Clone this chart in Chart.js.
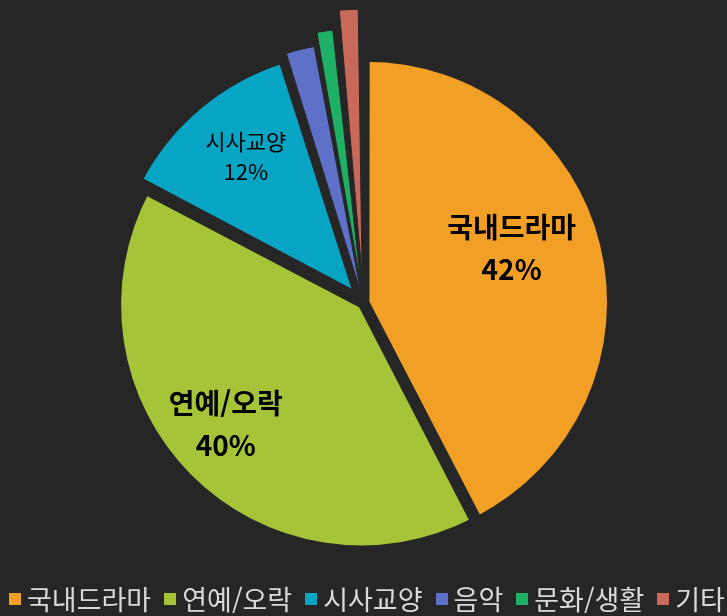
<!DOCTYPE html>
<html lang="ko">

<head>
    <meta charset="UTF-8">
    <title>장르별 비중</title>
    <script src="https://cdn.jsdelivr.net/npm/chart.js"></script>
    <style>
        body {
            margin: 0;
            background: #262626;
        }

        .grafico {
            position: relative;
            width: 727px;
            height: 616px;
        }

        #legenda {
            position: absolute;
            left: 9px;
            top: 581px;
            display: flex;
            font-family: "Noto Sans CJK KR", sans-serif;
            font-size: 27px;
            line-height: 36px;
            color: #d9d9d9;
            white-space: nowrap;
        }

        .item {
            display: flex;
            align-items: center;
            margin-right: 13px;
        }

        .caixa {
            width: 12px;
            height: 12px;
            margin-right: 6px;
        }
    </style>
</head>

<body>
    <div class="grafico">
        <canvas id="pizza"></canvas>
        <div id="legenda"></div>
    </div>
</body>

</html>

<script>
    var generos = ["국내드라마", "연예/오락", "시사교양", "음악", "문화/생활", "기타"];
    var percentuais = [42.4, 40.3, 12.4, 2.0, 1.3, 1.6];
    var cores = ["#F29F26", "#A5C438", "#06A5C4", "#5E70C8", "#1EB064", "#C8695A"];

    // only the three big slices carry a label inside
    var rotulosConfig = [
        { i: 0, r: 0.64, da: -6.7, size: 28, weight: "bold", gap: 42 },
        { i: 1, r: 0.745, da: 3.6, size: 28, weight: "bold", gap: 42 },
        { i: 2, r: 0.73, da: 1.2, size: 22, weight: "normal", gap: 30 }
    ];

    var rotulos = {
        id: "rotulos",
        afterDatasetsDraw: function (chart) {
            var ctx = chart.ctx;
            var arcs = chart.getDatasetMeta(0).data;
            var total = percentuais.reduce(function (a, b) { return a + b; }, 0);
            ctx.save();
            ctx.fillStyle = "#000";
            ctx.textAlign = "center";
            ctx.textBaseline = "middle";
            rotulosConfig.forEach(function (c) {
                var arc = arcs[c.i];
                var p = arc.getProps(["x", "y", "startAngle", "endAngle", "outerRadius"], true);
                var meio = (p.startAngle + p.endAngle) / 2;
                // chart.js moves an arc by offset/4
                var off = (arc.options.offset || 0) / 4;
                var ang = meio + c.da * Math.PI / 180;
                var x = p.x + Math.cos(meio) * off + Math.cos(ang) * p.outerRadius * c.r;
                var y = p.y + Math.sin(meio) * off + Math.sin(ang) * p.outerRadius * c.r;
                ctx.font = c.weight + " " + c.size + "px 'Noto Sans CJK KR'";
                ctx.fillText(generos[c.i], x, y - c.gap / 2);
                ctx.fillText(Math.round(percentuais[c.i] / total * 100) + "%", x, y + c.gap / 2);
            });
            ctx.restore();
        }
    };

    new Chart(document.getElementById("pizza"), {
        type: "pie",
        data: {
            labels: generos,
            datasets: [{
                data: percentuais,
                backgroundColor: cores,
                borderColor: "#262626",
                borderWidth: [6, 6, 6, 1, 1, 1],
                offset: [12, 12, 44, 41, 68, 109]
            }]
        },
        options: {
            responsive: true,
            maintainAspectRatio: false,
            animation: false,
            radius: 242,
            layout: {
                padding: { top: 0, bottom: 10, left: 0, right: 0 }
            },
            plugins: {
                legend: { display: false },
                tooltip: { enabled: false }
            }
        },
        plugins: [rotulos]
    });

    var legenda = document.getElementById("legenda");
    generos.forEach(function (g, i) {
        legenda.innerHTML += '<div class="item"><span class="caixa" style="background:' + cores[i] + '"></span>' + g + '</div>';
    });
</script>
